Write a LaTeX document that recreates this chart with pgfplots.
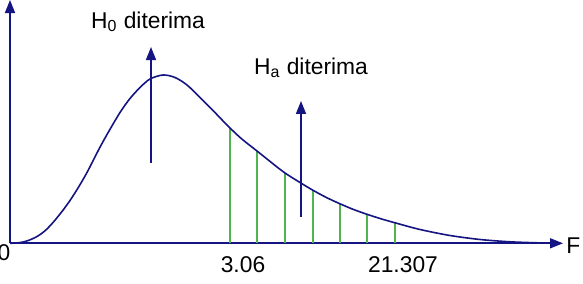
\documentclass[border=0pt]{standalone}
\usepackage{pgfplots}
\pgfplotsset{compat=1.18}
\usetikzlibrary{arrows.meta}
\usepackage{fontspec}
\setmainfont{Liberation Sans}
\definecolor{nv}{RGB}{20,20,130}
\definecolor{gr}{RGB}{80,180,80}
\begin{document}
\begin{tikzpicture}
\fontsize{11.4}{13}\selectfont
\begin{axis}[scale only axis, width=291.5pt, height=142pt,
  xmin=0, xmax=583, ymin=0, ymax=284, y dir=reverse,
  hide axis, clip=false]
\coordinate (A) at (axis cs:0,284);
\coordinate (B) at (axis cs:583,0);
% axes
\addplot[nv, line width=0.8pt, -{Triangle[length=6.5pt,width=5pt]}] coordinates {(10,243.3) (10,0)};
\addplot[nv, line width=0.8pt, -{Triangle[length=6.5pt,width=5pt]}] coordinates {(10,243.3) (563,243.3)};
% green lines
\addplot[gr, line width=0.8pt] coordinates {(230,243.3) (230,128)};
\addplot[gr, line width=0.8pt] coordinates {(257,243.3) (257,151)};
\addplot[gr, line width=0.8pt] coordinates {(285,243.3) (285,173)};
\addplot[gr, line width=0.8pt] coordinates {(313,243.3) (313,190.3)};
\addplot[gr, line width=0.8pt] coordinates {(340,243.3) (340,203.8)};
\addplot[gr, line width=0.8pt] coordinates {(367,243.3) (367,214.3)};
\addplot[gr, line width=0.8pt] coordinates {(395,243.3) (395,222.8)};
% curve
\addplot[nv, line width=0.8pt, smooth] coordinates {
(10,243.3) (20,242.6) (28,240.6) (37,236.5) (45,230.8) (53,222.5) (62,211.5) (70,200.5) (78,188) (87,172.5) (98,151) (107,134.5) (120,112.5) (130,98.5) (140,87.5) (150,79) (163,75) (175,77.5) (187,85) (200,97.5) (213,110.5) (227,125) (241,138.3) (257,151) (272,163) (285,173) (300,182.5) (313,190.3) (327,197.8) (340,203.8) (353,209.3) (367,214.3) (381,218.8) (395,222.8) (420,229.5) (450,235.5) (480,239.5) (510,241.8) (540,242.9) (560,243.3)};
% arrows
\addplot[nv, line width=0.8pt, -{Triangle[length=6.5pt,width=5pt]}] coordinates {(151,163) (151,47)};
\addplot[nv, line width=0.8pt, -{Triangle[length=6.5pt,width=5pt]}] coordinates {(301,217) (301,101)};
% texts
\node at (axis cs:148,22) {H\textsubscript{0} diterima};
\node at (axis cs:311,68) {H\textsubscript{a} diterima};
\node at (axis cs:243,265) {3.06};
\node at (axis cs:403,265) {21.307};
\node at (axis cs:4,253) {0};
\node[anchor=west, inner sep=0pt] at (axis cs:566,246) {F};
\end{axis}
\pgfresetboundingbox
\path (A) rectangle (B);
\end{tikzpicture}
\end{document}
